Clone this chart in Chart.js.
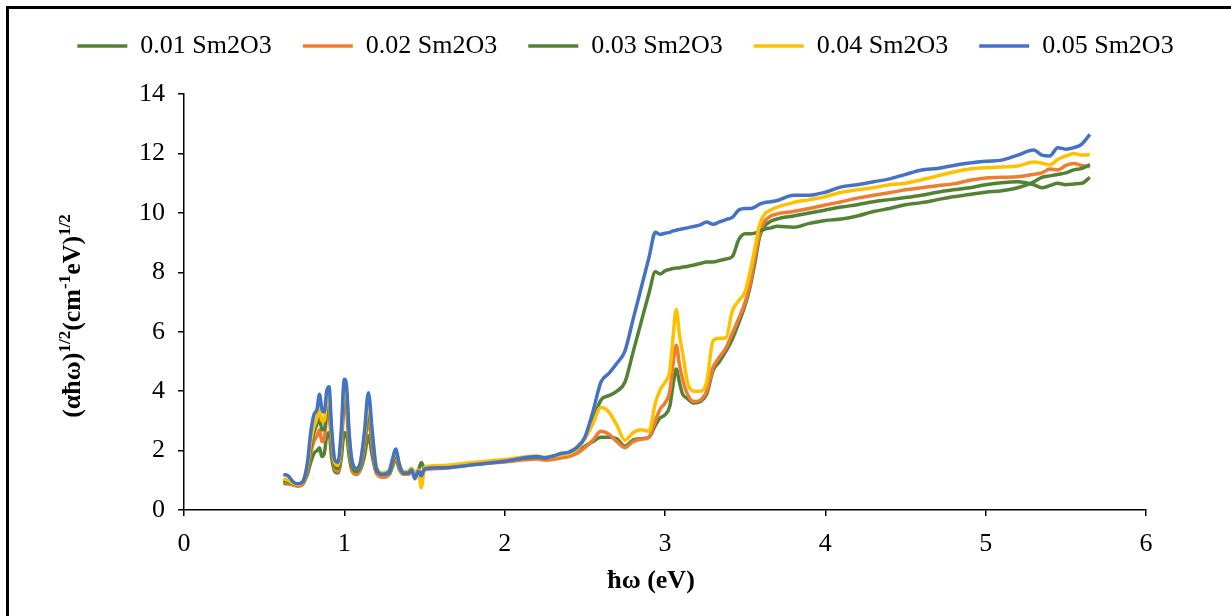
<!DOCTYPE html>
<html><head><meta charset="utf-8">
<script src="https://cdn.jsdelivr.net/npm/chart.js@4.4.1/dist/chart.umd.min.js"></script>
<style>html,body{margin:0;padding:0;background:#fff;overflow:hidden}canvas{display:block}</style>
</head><body>
<canvas id="c" width="1231" height="616"></canvas>
<script>
const energy = [0.62,0.65,0.68,0.71,0.74,0.77,0.79,0.81,0.83,0.845,
0.86,0.875,0.89,0.905,0.92,0.94,0.96,0.98,1.0,1.015,
1.03,1.05,1.075,1.1,1.125,1.15,1.175,1.2,1.24,1.28,
1.30,1.32,1.345,1.37,1.40,1.42,1.44,1.46,1.48,1.50,
1.6,1.8,2.0,2.2,2.25,2.3,2.35,2.4,2.45,2.5,
2.55,2.6,2.65,2.7,2.75,2.8,2.85,2.9,2.94,2.97,
3.0,3.03,3.05,3.07,3.09,3.11,3.14,3.18,3.22,3.26,
3.3,3.34,3.38,3.42,3.46,3.5,3.53,3.56,3.59,3.62,
3.66,3.7,3.8,3.9,4.0,4.1,4.2,4.3,4.4,4.5,
4.6,4.7,4.8,4.9,5.0,5.1,5.2,5.3,5.35,5.4,
5.45,5.5,5.55,5.6,5.65];

const sm01 = [0.9,0.88,0.85,0.82,0.9,1.2,1.6,1.9,2.0,2.1,
1.8,1.9,2.5,2.6,1.8,1.3,1.25,1.7,2.6,2.5,
1.8,1.3,1.2,1.35,1.8,2.5,1.8,1.25,1.15,1.2,
1.45,1.7,1.35,1.2,1.25,1.35,1.15,1.3,1.6,1.4,
1.45,1.55,1.65,1.75,1.7,1.72,1.78,1.82,1.95,2.15,
2.3,2.45,2.45,2.4,2.15,2.35,2.4,2.45,2.85,3.1,
3.2,3.5,4.2,4.75,4.3,3.9,3.75,3.6,3.65,3.9,
4.7,5.0,5.35,5.75,6.3,6.9,7.5,8.3,9.2,9.55,
9.72,9.8,9.9,10.0,10.1,10.2,10.28,10.38,10.45,10.52,
10.6,10.7,10.78,10.85,10.95,11.02,11.05,10.95,10.85,10.92,
11.0,10.95,10.98,11.0,11.2];

const sm02 = [0.95,0.9,0.85,0.8,0.85,1.3,1.9,2.3,2.5,2.7,
2.3,2.4,3.1,3.2,2.2,1.4,1.3,2.0,3.5,3.3,
2.1,1.35,1.2,1.4,2.1,3.0,2.1,1.25,1.1,1.2,
1.5,1.8,1.4,1.2,1.2,1.3,1.1,1.2,1.0,1.35,
1.4,1.52,1.62,1.72,1.68,1.7,1.75,1.8,1.9,2.1,
2.35,2.65,2.55,2.3,2.1,2.3,2.38,2.45,3.0,3.4,
3.6,4.0,4.9,5.55,4.9,4.4,3.9,3.65,3.7,4.0,
4.8,5.15,5.45,5.95,6.45,7.0,7.6,8.5,9.3,9.7,
9.9,9.97,10.05,10.15,10.27,10.38,10.5,10.6,10.68,10.78,
10.85,10.92,10.98,11.1,11.18,11.2,11.22,11.3,11.35,11.48,
11.45,11.6,11.67,11.6,11.56];

const sm03 = [1.0,0.95,0.9,0.85,0.92,1.4,2.1,2.6,2.9,3.1,
2.7,2.7,3.4,3.5,2.4,1.5,1.4,2.2,3.8,3.6,
2.3,1.45,1.3,1.5,2.3,3.3,2.3,1.35,1.2,1.25,
1.6,1.9,1.45,1.25,1.3,1.4,1.2,1.35,1.2,1.4,
1.45,1.55,1.67,1.78,1.75,1.8,1.85,1.9,2.1,2.4,
3.0,3.7,3.85,4.0,4.3,5.3,6.3,7.3,8.02,7.95,
8.05,8.1,8.13,8.15,8.15,8.18,8.2,8.25,8.3,8.35,
8.35,8.4,8.45,8.53,9.1,9.3,9.3,9.32,9.4,9.45,
9.5,9.55,9.52,9.65,9.75,9.8,9.9,10.05,10.15,10.28,
10.35,10.45,10.55,10.62,10.7,10.75,10.85,11.05,11.2,11.25,
11.3,11.35,11.45,11.5,11.63];

const sm04 = [1.05,1.0,0.9,0.85,0.95,1.5,2.3,2.8,3.1,3.5,
3.0,3.0,3.7,3.8,2.6,1.6,1.5,2.4,4.2,3.9,
2.5,1.6,1.4,1.6,2.5,3.6,2.5,1.45,1.25,1.35,
1.7,1.95,1.5,1.3,1.3,1.4,1.2,1.35,0.75,1.45,
1.5,1.6,1.7,1.82,1.78,1.8,1.85,1.9,2.05,2.4,
2.9,3.45,3.3,2.85,2.35,2.6,2.7,2.65,3.6,4.05,
4.3,4.7,5.8,6.75,5.9,5.3,4.3,4.0,4.0,4.3,
5.7,5.78,5.8,6.7,7.05,7.35,8.0,8.8,9.6,9.95,
10.1,10.2,10.35,10.45,10.55,10.7,10.78,10.85,10.95,11.0,
11.12,11.25,11.38,11.48,11.52,11.55,11.58,11.72,11.68,11.62,
11.8,11.92,12.0,11.95,11.97];

const sm05 = [1.2,1.15,0.95,0.88,0.95,1.6,2.6,3.2,3.4,3.9,
3.4,3.3,4.0,4.15,2.8,1.7,1.6,2.6,4.4,4.1,
2.6,1.6,1.4,1.6,2.6,3.95,2.6,1.4,1.2,1.3,
1.7,2.05,1.5,1.25,1.25,1.35,1.05,1.3,1.15,1.38,
1.42,1.52,1.64,1.8,1.76,1.82,1.9,1.95,2.1,2.45,
3.3,4.3,4.6,4.94,5.35,6.4,7.45,8.5,9.35,9.28,
9.32,9.35,9.4,9.42,9.45,9.47,9.5,9.55,9.6,9.7,
9.62,9.7,9.78,9.85,10.1,10.15,10.15,10.2,10.3,10.35,
10.38,10.42,10.6,10.6,10.7,10.88,10.95,11.05,11.15,11.3,
11.45,11.5,11.6,11.68,11.74,11.78,11.95,12.12,11.95,11.92,
12.2,12.15,12.2,12.32,12.65];

const seriesLabels = ['0.01 Sm2O3','0.02 Sm2O3','0.03 Sm2O3','0.04 Sm2O3','0.05 Sm2O3'];
const seriesValues = [sm01, sm02, sm03, sm04, sm05];
const seriesColors = ['#548235','#ED7D31','#548235','#FFC000','#4472C4'];
const xTickValues = [0,1,2,3,4,5,6];
const yTickValues = [0,2,4,6,8,10,12,14];
const xTitle = 'ħω (eV)';
const yTitleParts = [['(αħω)',false],['1/2',true],['(cm',false],['-1',true],['eV)',false],['1/2',true]];

const FONT = "'Liberation Serif','Times New Roman',serif";

const datasets = seriesValues.map((vals, i) => ({
  label: seriesLabels[i],
  data: energy.map((x, j) => ({x: x, y: vals[j]})),
  borderColor: seriesColors[i],
  backgroundColor: seriesColors[i],
  borderWidth: 3.5,
  pointRadius: 0,
  fill: false,
  cubicInterpolationMode: 'monotone',
  order: seriesValues.length - i
}));

const decor = {
  id: 'decor',
  afterDraw(chart) {
    const ctx = chart.ctx;
    ctx.save();
    ctx.strokeStyle = '#000';
    ctx.lineWidth = 3;
    ctx.beginPath();
    ctx.moveTo(7.5, 616); ctx.lineTo(7.5, 7.5); ctx.lineTo(1231, 7.5);
    ctx.stroke();
    ctx.fillStyle = '#000';
    ctx.font = 'bold 26px ' + FONT;
    ctx.textAlign = 'center';
    ctx.textBaseline = 'middle';
    ctx.fillText(xTitle, 651, 581);
    const mainFont = 'bold 26px ' + FONT, supFont = 'bold 17px ' + FONT;
    let total = 0;
    const widths = yTitleParts.map(p => { ctx.font = p[1] ? supFont : mainFont; const w = ctx.measureText(p[0]).width; total += w; return w; });
    ctx.translate(71, 316);
    ctx.rotate(-Math.PI / 2);
    ctx.textAlign = 'left';
    ctx.textBaseline = 'alphabetic';
    let x = -total / 2;
    yTitleParts.forEach((p, i) => {
      ctx.font = p[1] ? supFont : mainFont;
      ctx.fillText(p[0], x, p[1] ? -1 : 9);
      x += widths[i];
    });
    ctx.restore();
  }
};

new Chart(document.getElementById('c'), {
  type: 'line',
  data: { datasets },
  plugins: [decor],
  options: {
    responsive: false,
    animation: false,
    devicePixelRatio: 1,
    layout: { padding: { left: 20, right: 0, top: 2, bottom: 0 } },
    plugins: {
      legend: {
        display: true,
        position: 'top',
        labels: {
          usePointStyle: true,
          pointStyle: 'line',
          pointStyleWidth: 50,
          boxWidth: 50,
          padding: 31,
          color: '#000',
          font: { family: FONT, size: 26 },
          sort: (a, b) => a.datasetIndex - b.datasetIndex
        }
      },
      title: { display: true, text: '', weight: 500, font: { size: 1 }, padding: { top: 24, bottom: 0 } },
      subtitle: { display: true, text: '', position: 'right', fullSize: false, font: { size: 1 }, padding: { top: 0, bottom: 83.8 } },
      tooltip: { enabled: false }
    },
    scales: {
      x: {
        type: 'linear',
        min: 0, max: 6,
        afterBuildTicks: s => { s.ticks = xTickValues.map(v => ({ value: v })); },
        afterFit: s => { s.height = 106; },
        border: { display: true, color: '#000', width: 1.5 },
        grid: { display: true, drawOnChartArea: false, drawTicks: true, tickLength: 6, color: '#000', lineWidth: 1.5 },
        ticks: { color: '#000', font: { family: FONT, size: 26 }, padding: 13, maxRotation: 0 }
      },
      y: {
        type: 'linear',
        min: 0, max: 14,
        afterBuildTicks: s => { s.ticks = yTickValues.map(v => ({ value: v })); },
        afterFit: s => { s.width = 164; },
        border: { display: true, color: '#000', width: 1.5 },
        grid: { display: true, drawOnChartArea: false, drawTicks: true, tickLength: 6, color: '#000', lineWidth: 1.5 },
        ticks: { color: '#000', font: { family: FONT, size: 26 }, padding: 13 }
      }
    }
  }
});
</script>
</body></html>
